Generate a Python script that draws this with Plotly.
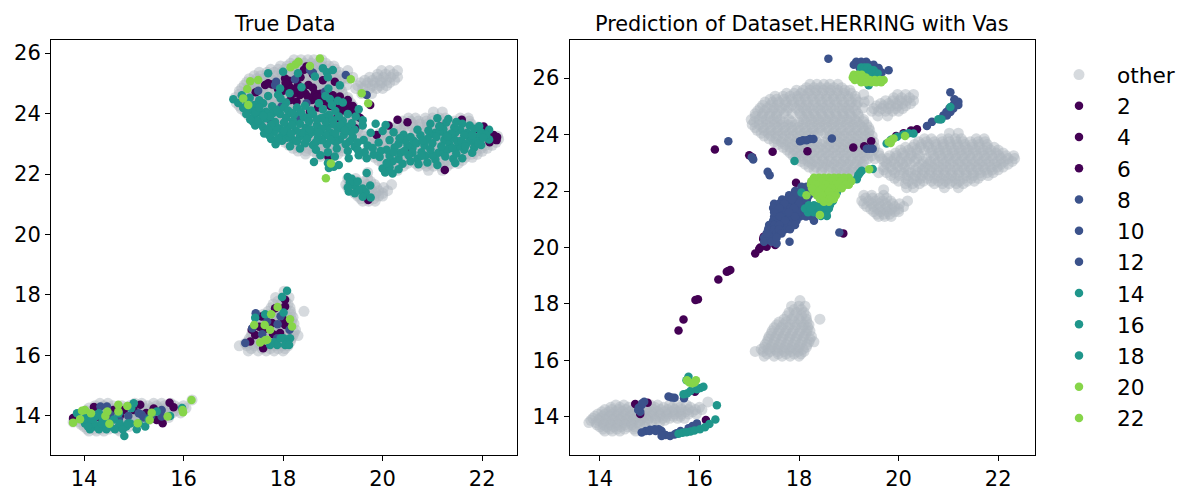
import plotly.graph_objects as go

LABELS = ["2", "4", "6", "8", "10", "12", "14", "16", "18", "20", "22"]

# rows of (y, [x, x, ...])
other_rows = [
 (25.78,[18.22,18.36,18.5,18.62,18.78]),
 (25.57,[17.95,18.08,18.22,18.35,18.49,18.64,18.78,18.92,19.02]),
 (25.36,[17.52,17.68,17.82,17.97,18.11,18.26,18.4,18.55,18.69,18.83,18.98,19.13]),
 (25.15,[17.32,17.47,17.6,17.75,17.9,18.04,18.18,18.33,18.47,18.62,18.76,18.9,19.05,19.19,19.31]),
 (24.94,[17.22,17.36,17.5,17.65,17.79,17.94,18.08,18.22,18.37,18.5,18.65,18.8,18.94,19.08,19.28]),
 (24.74,[17.12,17.27,17.41,17.55,17.7,17.86,18.02,18.16,18.3,18.45,18.6,18.74,18.88,19.02,19.18]),
 (24.53,[17.04,17.2,17.34,17.49,17.62,17.8,18.1,18.25,18.39,18.54,18.68,18.83,18.97,19.12,19.3]),
 (24.35,[17.06,17.2,17.35,17.5,17.64,17.78,17.92,18.07,18.22,18.36,18.5,18.65,18.79,18.94,19.08,19.22,19.36]),
 (24.15,[17.16,17.3,17.44,17.58,17.73,17.87,18.02,18.16,18.3,18.45,18.6,18.74,18.88,19.03,19.17,19.31,19.42]),
 (23.95,[17.3,17.44,17.58,17.73,17.88,18.02,18.17,18.31,18.62,18.76,18.9,19.05,19.19,19.33,19.47]),
 (23.74,[17.5,17.64,17.78,17.93,18.08,18.22,18.36,18.5,18.65,18.8,18.94,19.08,19.22,19.37,19.5]),
 (23.55,[17.68,17.82,17.97,18.12,18.26,18.4,18.55,18.7,18.84,18.98,19.13,19.27,19.42,19.52]),
 (23.35,[17.82,17.96,18.1,18.25,18.4,18.54,18.68,18.83,18.97,19.12,19.26,19.4,19.6]),
 (23.14,[17.93,18.08,18.22,18.36,18.5,18.65,18.8,18.94,19.08,19.23,19.38,19.52,19.66]),
 (22.95,[18.12,18.26,18.4,18.55,18.7,18.84,18.98,19.13,19.27]),
 (22.76,[18.3,18.46,18.6,18.75,18.9,19.05,19.2]),
 (22.58,[18.75,18.9,19.02]),
 (25.42,[19.98,20.14,20.3,19.3]),
 (25.2,[19.4,19.74,19.88,20.02,20.16,20.3]),
 (25.02,[19.56,19.7,19.84,19.98,20.14]),
 (24.83,[19.46,19.6,19.74,19.88,20.0]),
 (24.66,[19.58,19.78]),
 (24.05,[21.02,21.2]),
 (23.85,[20.52,20.66,20.86,21.0,21.14,21.26,21.56,21.72]),
 (23.65,[20.32,20.46,20.6,20.75,20.9,21.04,21.18,21.33,21.48,21.62,21.78]),
 (23.45,[20.04,20.2,20.36,20.52,20.67,20.82,20.97,21.12,21.26,21.4,21.55,21.7,21.85,22.0]),
 (23.25,[19.82,19.96,20.12,20.26,20.42,20.7,20.84,21.0,21.14,21.28,21.43,21.58,21.72,21.87,22.02,22.16,22.31]),
 (23.05,[19.72,19.86,20.02,20.16,20.32,20.5,20.64,20.8,20.95,21.1,21.24,21.38,21.54,21.68,21.82,21.98,22.12,22.28]),
 (22.85,[19.7,19.84,19.98,20.12,20.4,20.54,20.68,20.82,20.96,21.12,21.27,21.42,21.56,21.7,21.85,21.98,22.1]),
 (22.65,[19.6,19.76,19.92,20.1,20.24,20.38,20.52,20.66,20.8,20.94,21.08,21.22,21.36,21.5,21.64,21.78,21.9]),
 (22.45,[19.92,20.14,20.3,20.44,20.58,20.72,20.86,21.0,21.14,21.3,21.46,21.6]),
 (22.26,[20.14,20.28,20.42,20.72,20.88,21.02,21.16,21.3]),
 (22.12,[20.16,20.3,20.92,21.2]),
 (22.05,[19.7]),
 (21.85,[19.3,19.46,19.7]),
 (21.65,[19.26,19.4,19.54,19.68,19.84,20.18]),
 (21.45,[19.36,19.5,19.64,19.78,19.92,20.1]),
 (21.27,[19.5,19.64,19.78,19.92,20.0]),
 (21.1,[19.6,19.72,19.85]),
 (18.12,[18.02]),
 (17.92,[17.85,18.0,18.12]),
 (17.7,[17.8,17.95,18.1]),
 (17.46,[17.7,17.85,18.0,18.15,18.42]),
 (17.26,[17.55,17.68,17.82,17.96,18.1,18.2]),
 (17.05,[17.46,17.6,17.74,17.88,18.02,18.16,18.22]),
 (16.85,[17.4,17.54,17.68,17.82,17.96,18.1,18.25]),
 (16.66,[17.36,17.5,17.64,17.78,17.92,18.06,18.2,18.3]),
 (16.47,[17.3,17.44,17.58,17.72,17.86,18.0,18.15]),
 (16.32,[17.12,17.28,17.42,17.56,17.7,17.84,17.98,18.1]),
 (16.15,[17.3,17.5,17.66,17.82,18.0]),
 (14.53,[16.17]),
 (14.42,[14.32,14.48,15.02,15.16,15.4,15.56,15.74]),
 (14.26,[14.1,14.24,14.38,14.52,14.66,14.8,14.94,15.08,15.22,15.36,15.5,15.64,15.78,15.92,16.05]),
 (14.1,[13.96,14.1,14.24,14.38,14.52,14.66,14.8,14.94,15.08,15.22,15.36,15.5,15.64,15.78,15.94]),
 (13.95,[13.86,14.0,14.14,14.28,14.42,14.56,14.7,14.84,14.98,15.12,15.26,15.4,15.56,15.7]),
 (13.8,[13.78,13.92,14.06,14.2,14.34,14.48,14.62,14.76,14.9,15.04,15.2]),
 (13.65,[14.0,14.14,14.28,14.42,14.56,14.7,14.9]),
 (13.5,[14.1,14.25,14.4,14.72]),
]

other_extra_rows = [
 (25.66,[18.15,18.3,18.43,18.57,18.7,18.86]),
 (25.46,[17.75,17.9,18.04,18.18,18.32,18.47,18.61,18.76,18.9,19.05]),
 (25.25,[17.42,17.55,17.7,17.85,17.99,18.13,18.28,18.42,18.56,18.7,18.85,19.0,19.14]),
 (25.04,[17.27,17.43,17.57,17.72,17.86,18.01,18.15,18.29,18.44,18.58,18.72,18.87,19.01,19.15]),
 (24.84,[17.17,17.31,17.46,17.6,17.75,18.0,18.15,18.29,18.43,18.57,18.72,18.87,19.0,19.14]),
 (24.64,[17.12,17.26,17.41,17.55,18.06,18.2,18.34,18.48,18.62,18.76,18.9,19.05,19.2]),
 (24.45,[17.1,17.27,17.42,17.56,17.7,17.85,18.0,18.15,18.3,18.44,18.58,18.72,18.87,19.02,19.16,19.3]),
 (24.25,[17.12,17.28,17.42,17.56,17.7,17.85,17.98,18.12,18.27,18.42,18.56,18.7,18.84,19.0,19.14,19.28,19.4]),
 (24.05,[17.24,17.38,17.52,17.66,17.8,17.95,18.1,18.24,18.38,18.52,18.68,18.82,18.96,19.1,19.25,19.4]),
 (23.85,[17.4,17.54,17.68,17.82,17.97,18.12,18.27,18.58,18.72,18.85,19.0,19.14,19.28,19.42]),
 (23.65,[17.58,17.72,17.87,18.02,18.16,18.3,18.45,18.6,18.75,18.9,19.04,19.18,19.32,19.46]),
 (23.45,[17.76,17.9,18.04,18.19,18.33,18.48,18.62,18.76,18.9,19.06,19.2,19.34,19.5]),
 (23.25,[17.88,18.02,18.16,18.3,18.45,18.6,18.75,18.9,19.04,19.18,19.32,19.46,19.62]),
 (23.05,[18.04,18.18,18.32,18.47,18.6,18.75,18.9,19.03,19.17,19.3]),
 (22.85,[18.2,18.34,18.5,18.64,18.78,18.94,19.1,19.24]),
 (22.66,[18.45,18.68,18.84,18.98,19.1]),
 (25.3,[19.9,20.06,20.22]),
 (25.1,[19.64,19.8,19.95,20.08,20.24]),
 (24.92,[19.5,19.66,19.8,19.94,20.08]),
 (23.75,[20.4,20.56,20.72,20.88,21.02,21.16,21.3,21.44,21.6,21.74]),
 (23.55,[20.14,20.28,20.44,20.6,20.76,20.9,21.05,21.2,21.34,21.48,21.62,21.78,21.92]),
 (23.35,[19.94,20.08,20.24,20.38,20.64,20.8,20.94,21.08,21.22,21.36,21.5,21.66,21.8,21.96,22.1]),
 (23.15,[19.78,19.92,20.06,20.22,20.36,20.56,20.72,20.88,21.02,21.16,21.32,21.46,21.6,21.76,21.9,22.06,22.2,22.33]),
 (22.95,[19.76,19.92,20.08,20.24,20.46,20.6,20.74,20.9,21.04,21.2,21.34,21.48,21.62,21.76,21.92,22.06,22.2]),
 (22.75,[19.7,19.88,20.04,20.2,20.34,20.48,20.62,20.76,20.9,21.04,21.18,21.32,21.46,21.6,21.74,21.88,22.0]),
 (22.55,[19.84,20.02,20.18,20.34,20.48,20.62,20.78,20.92,21.06,21.2,21.36,21.5,21.66,21.8]),
 (22.35,[20.0,20.2,20.36,20.5,20.66,20.8,20.94,21.08,21.22,21.38,21.52]),
 (21.75,[19.34,19.48,19.62,19.76]),
 (21.55,[19.3,19.46,19.6,19.74,19.88,20.02]),
 (21.36,[19.44,19.58,19.72,19.86,20.0]),
 (21.18,[19.56,19.7,19.82]),
 (17.8,[17.9,18.05]),
 (17.58,[17.76,17.9,18.05,18.14]),
 (17.36,[17.6,17.74,17.9,18.04,18.16]),
 (17.16,[17.5,17.64,17.78,17.92,18.06,18.18]),
 (16.95,[17.44,17.58,17.72,17.86,18.0,18.14]),
 (16.76,[17.38,17.52,17.66,17.8,17.94,18.08,18.22]),
 (16.56,[17.32,17.46,17.6,17.74,17.88,18.02,18.16]),
 (16.4,[17.24,17.38,17.52,17.66,17.8,17.94,18.08]),
 (16.23,[17.36,17.58,17.74,17.9,18.04]),
 (14.34,[14.22,14.4,14.58,14.76,14.92,15.1,15.28,15.46,15.62,15.82,16.0]),
 (14.18,[14.04,14.18,14.32,14.46,14.6,14.74,14.88,15.02,15.16,15.3,15.44,15.58,15.72,15.86]),
 (14.02,[13.9,14.06,14.2,14.34,14.48,14.62,14.76,14.9,15.04,15.2,15.34,15.48,15.62]),
 (13.88,[13.82,13.98,14.12,14.26,14.4,14.54,14.68,14.82,14.96,15.12,15.3]),
 (13.72,[13.94,14.08,14.22,14.36,14.5,14.64,14.8]),
 (13.57,[14.06,14.2,14.34,14.5,14.68]),
]

true_purple_pts = [(17.64,24.94),(17.78,24.96),(18.04,25.16),(18.07,24.94),(18.47,25.55),(18.34,24.61),(18.51,24.94),(18.64,24.67),
 (18.71,24.45),(18.27,24.39),(19.04,25.05),(19.14,24.56),(19.24,24.34),(19.34,24.17),(19.48,23.95),(19.75,24.28),(18.54,24.06),
 (19.08,23.84),(18.91,22.57),(20.3,23.79),(20.5,23.71),(20.12,23.6),(21.15,23.57),(21.59,23.79),(21.25,22.13),(21.92,23.48),
 (22.03,23.57),(22.23,23.29),(22.29,23.12),(22.15,23.05),(20.55,22.85),(19.71,21.14),(19.45,23.51),(19.88,23.29),
 (17.9,24.8),(18.0,24.75),(18.15,24.85),(18.3,24.95),(18.2,24.65),(18.4,24.75),(18.6,24.85),(18.5,24.55),(18.75,24.65),
 (18.85,24.4),(18.95,24.25),(19.1,24.3),(19.2,24.1),(19.4,24.25),(18.7,24.2),(18.6,25.3),(17.45,24.7),(18.8,25.1),(18.15,24.45),
 (19.0,24.6),(19.3,24.45),(19.55,23.85),(18.05,25.02),(18.12,25.08),(17.7,25.0),(18.25,24.8),(18.45,24.65),(18.58,24.45),(18.68,24.55),
 (18.8,24.5),(18.9,24.55),(19.05,24.45),(19.15,24.2),(19.28,24.25),(19.42,24.05),(18.35,25.2),(18.42,25.45),(22.1,23.4),(22.2,23.2),(22.3,23.22),
 (13.78,13.93),(14.59,14.2),(14.72,14.0),(15.0,14.2),(15.13,14.37),(14.96,14.33),(15.46,13.87),(15.58,13.76),(15.72,14.44),(15.8,14.29),
 (14.33,13.93),(14.8,14.2),(15.25,14.1),(15.4,14.25),(14.2,14.3),
 (18.04,17.84),(18.04,17.62),(17.84,17.56),(18.01,17.18),(18.04,17.01),(17.37,16.85),(17.44,16.68),(17.57,17.29),(17.61,16.85),
 (17.94,16.74),(17.6,16.24),(17.34,16.46),(17.78,17.07),(17.8,16.7),(17.52,16.95)]

true_blue_pts = [(17.84,24.94),(18.24,25.13),(18.54,25.44),(18.84,24.72),(17.97,24.23),(18.47,24.34),(19.26,25.27),(19.68,24.61),
 (19.18,23.51),(18.34,23.84),(17.74,23.79),(17.5,24.75),(17.86,25.05),(18.6,25.35),
 (14.33,14.31),(14.06,13.74),(14.53,14.04),(14.89,14.0),(15.1,14.09),(15.16,14.04),(15.2,13.95),(15.56,14.2),(15.56,13.98),(14.46,14.31),
 (14.2,13.95),(14.7,13.9),(15.35,14.0),
 (17.24,16.41),(17.45,17.4),(17.68,17.12),(17.89,17.03),(18.13,16.85),(17.88,16.57),(17.38,16.9),(17.58,16.7),(17.95,17.3)]

true_teal_pts = [(18.8,25.5),(19.0,25.44),(18.0,25.38),(18.88,25.36),(17.7,25.33),(18.3,25.33),(18.64,25.22),(18.9,25.2),(19.14,24.93),(18.37,24.87),
 (17.94,24.83),(18.91,24.83),(18.13,24.67),(17.9,24.62),(17.17,24.6),(17.7,24.58),(18.85,24.58),(17.0,24.47),(17.33,24.52),(17.52,24.44),(17.95,24.5),(18.94,24.48),(19.1,24.42),
 (17.1,24.35),(17.28,24.38),(17.42,24.28),(17.6,24.34),(17.78,24.24),(18.06,24.36),(18.44,24.26),(18.72,24.34),(18.98,24.28),(19.2,24.36),
 (17.2,24.18),(17.36,24.12),(17.52,24.2),(17.66,24.06),(17.88,24.12),(18.1,24.1),(18.28,24.2),(18.56,24.1),(18.8,24.14),(19.05,24.08),(19.52,24.14),
 (17.26,23.98),(17.42,23.94),(17.56,24.0),(17.74,23.9),(17.94,23.98),(18.06,23.86),(18.22,23.96),(18.42,23.88),(18.6,23.98),(18.76,23.84),(18.92,23.96),(19.12,23.9),(19.3,23.98),(19.46,23.9),
 (17.34,23.8),(17.5,23.76),(17.66,23.84),(17.84,23.72),(18.02,23.7),(18.2,23.74),(18.34,23.66),(18.52,23.74),(18.68,23.62),(18.86,23.72),(19.02,23.64),(19.2,23.76),(19.38,23.68),(19.6,23.78),
 (21.1,23.84),(21.32,23.82),(21.48,23.72),(17.44,23.6),(17.6,23.54),(17.76,23.62),(17.94,23.5),(18.1,23.56),(18.26,23.44),(18.46,23.52),(18.6,23.4),(18.78,23.5),(18.94,23.38),(19.1,23.5),(19.28,23.56),(19.44,23.46),(19.6,23.6),(19.86,23.66),(20.06,23.62),
 (20.96,23.66),(21.14,23.58),(21.28,23.7),(21.44,23.54),(21.6,23.66),(21.75,23.6),(20.7,23.46),(20.92,23.44),(21.06,23.36),(21.22,23.48),(21.38,23.34),(21.56,23.46),(21.7,23.36),(21.84,23.5),(21.98,23.38),(22.14,23.46),
 (17.62,23.34),(17.82,23.4),(17.98,23.28),(18.16,23.34),(18.34,23.24),(18.52,23.3),(18.7,23.2),(18.86,23.28),(19.04,23.18),(19.22,23.3),(19.4,23.22),(19.76,23.36),(20.0,23.42),(20.22,23.38),(20.42,23.3),
 (20.56,23.22),(20.76,23.28),(20.9,23.16),(21.08,23.22),(21.24,23.12),(21.42,23.2),(21.58,23.1),(21.74,23.22),(21.88,23.08),(22.02,23.2),(22.14,23.14),
 (17.76,23.16),(17.98,23.1),(18.2,23.12),(18.44,23.02),(18.66,23.06),(18.88,22.98),(19.06,23.06),(19.26,22.98),(19.62,23.12),(19.92,23.04),(20.14,23.12),(20.32,23.0),(20.46,23.1),(20.68,23.02),(20.84,22.94),(21.0,23.02),(21.18,22.92),(21.34,23.0),(21.52,22.9),(21.68,23.0),(21.84,22.88),(21.98,22.96),
 (17.85,22.98),(18.14,22.92),(18.34,22.84),(18.66,22.8),(18.9,22.72),(19.08,22.84),(19.3,22.76),(19.44,22.9),(19.64,22.72),(19.8,22.86),(20.08,22.8),(20.24,22.88),(20.44,22.76),(20.6,22.86),(20.78,22.72),(20.96,22.82),(21.12,22.7),(21.3,22.8),(21.48,22.68),(21.64,22.8),(21.8,22.7),
 (18.75,22.62),(19.04,22.58),(19.32,22.52),(19.52,22.62),(19.68,22.52),(19.94,22.56),(20.14,22.6),(20.32,22.5),(20.52,22.62),(20.7,22.5),(20.86,22.6),(21.06,22.48),(21.26,22.58),(21.42,22.5),(21.6,22.52),
 (18.62,22.4),(18.9,22.36),(19.12,22.3),(20.08,22.36),(20.2,22.42),(20.4,22.34),(20.56,22.42),(20.72,22.32),(20.9,22.38),(21.1,22.3),(21.46,22.36),
 (18.92,22.2),(19.02,22.24),(20.0,22.18),(20.14,22.22),(20.32,22.16),(20.05,22.05),(20.2,22.02),(19.68,22.03),
 (19.3,21.9),(19.38,21.84),(19.34,21.72),(19.42,21.66),(19.5,21.75),(19.3,21.55),(19.45,21.6),(19.6,21.52),(19.75,21.62),(19.32,21.42),(19.44,21.36),(19.52,21.46),(19.66,21.4),(19.6,21.25),(19.76,21.22),
 (15.0,14.42),(15.97,14.26),(14.95,14.26),(15.46,14.15),(13.86,14.09),(14.3,14.09),(14.7,14.09),(15.73,14.0),(14.05,14.0),(14.25,14.0),
 (14.0,13.88),(14.15,13.88),(14.38,13.88),(14.6,13.88),(15.3,13.88),(14.02,13.75),(14.2,13.75),(14.35,13.75),(14.5,13.75),(14.72,13.75),(14.88,13.75),(14.93,13.75),(15.1,13.75),
 (14.08,13.65),(14.22,13.65),(14.38,13.65),(14.52,13.65),(14.7,13.65),(14.85,13.65),(15.23,13.65),(14.12,13.56),(14.3,13.56),(14.45,13.56),(14.62,13.56),(14.78,13.56),(15.06,13.56),(14.81,13.34),
 (18.08,18.14),(17.98,17.93),(18.01,17.42),(17.64,17.36),(17.44,17.25),(18.01,16.57),(18.14,16.57),(17.95,16.57),(17.82,16.44),(18.08,16.44),(17.74,16.35),(17.88,16.35),(18.04,16.35),(18.12,16.35)]

true_teal_extra_pts = [(17.3,24.25),(17.45,24.05),(17.6,23.92),(17.8,24.02),(18.02,24.2),(18.18,24.02),(18.36,24.04),(18.5,23.86),(18.68,23.8),(18.84,23.88),(19.0,23.78),(19.16,23.62),
 (17.4,23.72),(17.55,23.65),(17.7,23.46),(17.86,23.56),(18.02,23.42),(18.18,23.62),(18.38,23.36),(18.54,23.48),(18.72,23.38),(18.88,23.56),(19.05,23.34),(19.24,23.44),(19.36,23.4),
 (17.72,23.28),(17.9,23.18),(18.08,23.2),(18.28,23.08),(18.48,23.16),(18.6,22.96),(18.78,23.12),(18.96,23.12),(19.14,23.14),(19.34,23.08),(19.5,23.04),(19.7,22.94),(19.5,22.8),
 (20.34,23.18),(20.5,22.94),(20.62,23.1),(20.8,23.1),(20.96,23.3),(21.14,23.4),(21.3,23.24),(21.46,23.36),(21.64,23.28),(21.8,23.28),(21.92,23.22),(22.08,23.3),(21.94,23.58),
 (21.26,23.3),(21.5,23.08),(21.66,22.92),(21.78,23.1),(21.92,23.0),(21.4,22.86),(21.22,22.7),(21.0,22.62),(20.78,22.6),(20.6,22.7),(20.36,22.7),(20.22,22.72),(19.96,22.76),(19.82,22.64)]

true_green_pts = [(18.74,25.82),(18.31,25.71),(18.25,25.62),(18.15,25.53),(18.54,25.57),(17.34,25.07),(17.5,25.11),(17.28,24.81),
 (17.2,24.5),(17.3,24.28),(19.36,25.13),(19.58,24.67),(19.71,24.34),(18.96,22.35),(18.86,21.86),
 (13.78,13.78),(13.92,13.89),(13.96,14.17),(14.02,14.2),(14.14,14.09),(14.43,14.0),(14.47,14.15),(14.51,13.74),(14.69,14.37),(14.69,14.15),
 (14.87,14.33),(15.08,13.76),(15.32,13.87),(15.36,14.11),(15.68,13.98),(15.98,14.2),(15.99,14.12),(16.16,14.53),
 (17.89,17.6),(17.76,17.36),(18.14,17.2),(18.18,16.96),(17.42,17.01),(17.63,17.01),(17.74,16.85),(17.68,16.52),(17.54,16.43),(17.64,16.5)]

pred_purple_pts = [(16.31,23.47),(17.0,23.27),(17.06,23.2),(17.47,23.39),(18.17,23.41),(19.09,23.54),(19.31,23.59),(19.45,23.76),(17.94,22.29),
 (18.89,20.5),(20.37,24.19),(20.25,24.14),(20.1,24.05),(19.95,23.95),(19.85,23.8),
 (17.12,19.79),(17.22,20.0),(17.35,20.03),(17.29,20.38),(17.52,20.09),(17.59,20.85),(17.28,20.3),(17.4,20.6),(17.5,20.3),
 (16.62,19.2),(16.58,19.17),(16.55,19.14),(16.38,18.87),(15.97,18.17),(15.92,18.14),(15.68,17.45),(15.58,17.06),
 (15.91,14.89),(16.13,13.89),(14.71,14.46),(14.81,14.1),(14.96,14.5),(17.2,19.95)]

pred_blue_rows = [
 (26.69,[18.59]),(26.58,[19.15,19.25,19.35]),(26.47,[19.1,19.2,19.3,19.4,19.5]),(26.36,[19.22,19.35,19.48,19.6]),(26.28,[19.8]),(26.2,[19.55,19.66]),
 (25.5,[21.04]),(25.25,[21.12]),(25.16,[21.2,21.14]),(25.05,[21.2,21.1]),(24.92,[21.1,21.02]),(24.8,[21.04,20.96]),(24.68,[20.97,20.9]),
 (24.54,[20.84]),(24.45,[20.67]),(24.3,[20.57]),(23.5,[19.36,19.42,19.48]),(23.84,[18.22,18.29]),(23.8,[18.08,18.15]),(23.76,[18.02]),(23.86,[18.66]),
 (23.76,[16.58]),(23.2,[17.05]),(23.12,[17.08]),(22.68,[17.37]),(22.56,[17.41]),(20.53,[18.81]),
 (22.3,[18.25,18.32]),(22.15,[18.05,18.15,18.25]),(22.0,[17.92,18.02,18.12,18.22]),(21.85,[17.8,17.9,18.0,18.1,18.2]),
 (21.7,[17.66,17.76,17.86,17.96,18.06,18.16]),(21.55,[17.5,17.6,17.7,17.8,17.9,18.0,18.1]),(21.4,[17.48,17.6,17.7,17.8,17.9,18.0,18.12]),
 (21.25,[17.5,17.6,17.7,17.8,17.9,18.0,18.12,18.22]),(21.1,[17.5,17.62,17.72,17.82,17.92,18.02,18.14,18.25]),
 (20.95,[17.48,17.6,17.72,17.84,17.95,18.3]),(20.8,[17.4,17.5,17.6,17.7,17.8,17.92]),(20.65,[17.38,17.5,17.6,17.72,17.82]),
 (20.5,[17.35,17.45,17.55,17.65]),(20.35,[17.3,17.42,17.55]),(20.2,[17.3,17.45,17.81]),(20.14,[17.55]),
 (14.54,[14.89]),(14.48,[14.85]),(14.42,[14.84]),(14.32,[14.78]),(14.24,[14.77]),(14.18,[14.81]),(14.72,[15.38]),(14.69,[15.44]),(14.68,[15.5]),(14.66,[15.69]),
 (13.45,[14.84]),(13.5,[14.92]),(13.54,[15.01]),(13.56,[15.1,15.18]),(13.5,[15.0,15.12,15.24]),(13.32,[15.24,15.41]),(13.36,[15.32]),(13.38,[15.5]),(13.42,[15.54]),(13.5,[15.62]),(13.6,[15.78]),(13.68,[15.86]),(13.77,[15.95]),
]

pred_teal_rows = [
 (26.38,[19.25,19.32,19.38]),(26.28,[19.25,19.35,19.45,19.5]),(26.16,[19.3,19.4,19.5,19.58]),(25.75,[19.4]),
 (24.98,[21.04]),(24.54,[20.8,20.86]),(23.68,[19.76]),(23.82,[19.85]),(23.92,[19.97]),(24.0,[20.1]),(24.05,[20.2]),(24.04,[20.3]),
 (23.06,[17.91]),(22.72,[19.26]),(22.64,[19.22]),(22.56,[19.19]),(22.42,[19.16]),(22.78,[19.48]),
 (21.95,[18.05,18.76]),(21.8,[18.7]),(21.65,[18.6,18.68]),(21.5,[18.2,18.3,18.42,18.55,18.62]),(21.38,[18.12,18.24,18.36,18.5,18.6]),(21.25,[18.18,18.3,18.42,18.55]),(21.12,[18.44,18.56]),
 (15.42,[15.78]),(14.83,[15.75]),(15.07,[16.08]),(14.98,[15.95]),(14.92,[15.82]),(14.8,[15.68]),(15.02,[16.02]),(15.3,[15.74]),
 (14.41,[16.35]),(13.91,[16.32]),(13.75,[16.2]),(13.63,[16.11]),(13.4,[15.58]),(13.44,[15.66]),(13.46,[15.74]),(13.48,[15.82]),(13.52,[15.9]),(13.56,[16.01]),
]

pred_green_rows = [
 (26.12,[19.1,19.18,19.26]),(26.02,[19.08,19.16,19.24,19.34]),(25.93,[19.12,19.22,19.32,19.42,19.52,19.62,19.7]),(25.85,[19.25,19.35,19.45,19.55,19.65]),
 (23.86,[19.9]),(23.8,[19.86]),(23.74,[19.8]),(23.7,[19.84]),(23.95,[20.13]),(22.77,[19.41]),
 (22.47,[18.3,18.4,18.5,18.6,18.7,18.8,18.9,19.0]),(22.35,[18.25,18.35,18.45,18.55,18.65,18.75,18.85,18.95,19.05]),
 (22.22,[18.24,18.34,18.44,18.54,18.64,18.74,18.84,18.94,19.0]),(22.1,[18.26,18.36,18.46,18.56,18.66,18.76,18.86]),
 (21.97,[18.3,18.4,18.5,18.6,18.7]),(21.85,[18.15,18.36,18.46,18.56,18.66,18.74]),(21.72,[18.42,18.52,18.62,18.7]),(21.62,[18.5,18.6]),(21.15,[18.42]),
 (15.3,[15.75,15.93]),(15.22,[15.8,15.9]),(15.19,[15.85]),
]

PURPLE = "#440154"; BLUE = "#3b528b"; TEAL = "#1f968b"; GREEN = "#86d549"; GRAY = "#adb5bd"


def flat(rows):
    return [(x, y) for y, xs in rows for x in xs]

other_pts = flat(other_rows) + flat(other_extra_rows)
true_teal_all = true_teal_pts + true_teal_extra_pts
pred_blue_pts = flat(pred_blue_rows)
pred_teal_pts = flat(pred_teal_rows)
pred_green_pts = flat(pred_green_rows)

fig = go.Figure()

def add(pts, name, color, size, opacity, axis, legend):
    fig.add_trace(go.Scatter(
        x=[p[0] for p in pts], y=[p[1] for p in pts], mode="markers", name=name,
        marker=dict(color=color, size=size, opacity=opacity, line=dict(width=0)),
        xaxis="x" + axis, yaxis="y" + axis, showlegend=legend, hoverinfo="skip"))

def panel(purple, blue, teal, green, axis, legend):
    add(other_pts, "other", GRAY, 11, 0.5, axis, legend)
    groups = [(purple, PURPLE, 3, 0), (blue, BLUE, 3, 3), (teal, TEAL, 3, 6), (green, GREEN, 2, 9)]
    for pts, color, n, start in groups:
        for i in range(n):
            add(pts[i::n], LABELS[start + i], color, 8.5, 1, axis, legend)

panel(true_purple_pts, true_blue_pts, true_teal_all, true_green_pts, "", False)
panel(pred_purple_pts, pred_blue_pts, pred_teal_pts, pred_green_pts, "2", True)

axis_style = dict(showgrid=False, zeroline=False, showline=True, linecolor="black", linewidth=1, mirror=True,
                  ticks="outside", ticklen=5, tickwidth=1, tickcolor="black", tickfont=dict(size=21, color="black"),
                  dtick=2)

W, H, PAGE = 1192, 492, 8
def fx(px):
    return (px - PAGE) / W
def fy(py):
    return 1 - (py - PAGE) / H

fig.update_layout(
    width=W, height=H, margin=dict(l=0, r=0, t=0, b=0, autoexpand=False),
    paper_bgcolor="white", plot_bgcolor="white",
    font=dict(family="DejaVu Sans", color="black"),
    xaxis=dict(domain=[fx(51), fx(517)], range=[13.337, 22.70], **axis_style),
    yaxis=dict(domain=[fy(455), fy(40)], range=[12.71, 26.43], **axis_style),
    xaxis2=dict(domain=[fx(569.5), fx(1035)], range=[13.39, 22.74], anchor="y2", **axis_style),
    yaxis2=dict(domain=[fy(455), fy(40)], range=[12.65, 27.35], anchor="x2", **axis_style),
    legend=dict(x=fx(1041), y=fy(54), xanchor="left", yanchor="top", font=dict(size=21.7, color="black"),
                itemwidth=66, bgcolor="rgba(0,0,0,0)", borderwidth=0, itemsizing="trace", tracegroupgap=0),
    annotations=[
        dict(text="True Data", x=fx(284), y=fy(24), xref="paper", yref="paper", showarrow=False,
             xanchor="center", yanchor="middle", font=dict(size=20.8, color="black")),
        dict(text="Prediction of Dataset.HERRING with Vas", x=fx(802), y=fy(24), xref="paper", yref="paper",
             showarrow=False, xanchor="center", yanchor="middle", font=dict(size=20.8, color="black")),
    ],
)

fig.write_html("out.html")
